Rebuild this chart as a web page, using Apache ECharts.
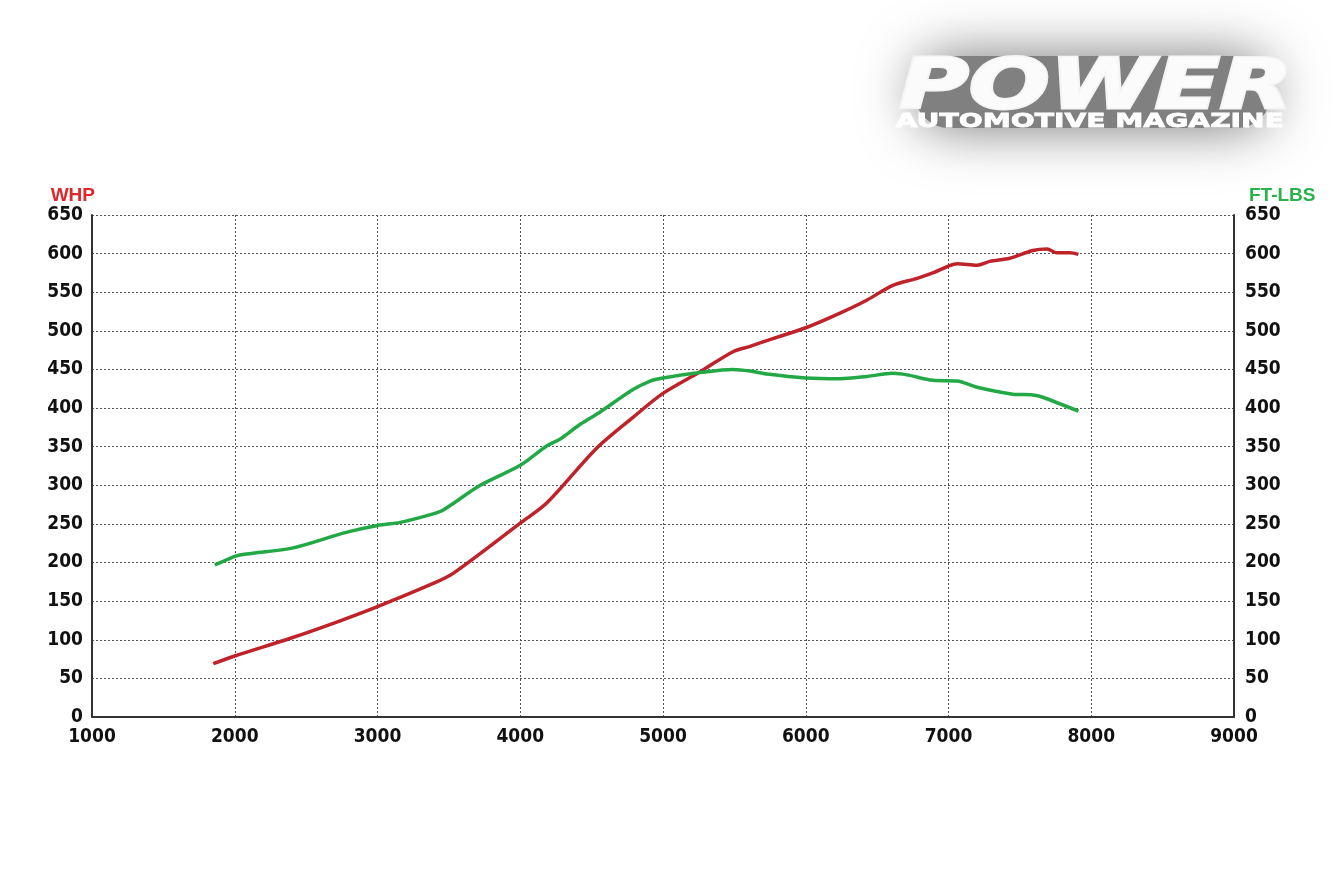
<!DOCTYPE html>
<html>
<head>
<meta charset="utf-8">
<script src="https://cdn.jsdelivr.net/npm/echarts@6/dist/echarts.min.js"></script>
<style>
html,body{margin:0;padding:0;background:#fff;}
#chart{width:1340px;height:892px;}
</style>
</head>
<body>
<div id="chart"></div>
<script>
// RPM / WHP (red)
const whpRpm = [1850,2000,2390,2700,3000,3390,3530,4000,4185,4535,4790,5000,5260,5490,5610,5770,6000,6240,6430,6610,6780,6890,6990,7060,7200,7290,7430,7590,7690,7760,7850,7910];
const whpVals = [69,79,102,122,143,173,186,251,277,348,388,419,447,473,480,490,504,523,540,559,568,575,583,587,585,590,594,604,606,601,601,599];
// RPM / FT-LBS (green)
const tqRpm = [1860,1950,2000,2080,2410,2780,3000,3160,3390,3460,3720,4000,4185,4280,4420,4560,4790,4910,5000,5260,5490,5610,5730,6000,6240,6430,6610,6710,6890,7060,7200,7450,7590,7660,7910];
const tqVals = [197,204,208,211,219,239,248,252,263,268,300,326,351,360,379,395,424,435,439,446,450,448,444,439,438,441,445,443,436,435,427,418,417,414,396];
// axis settings
const xMin = 1000, xMax = 9000, xStep = 1000;
const yMin = 0, yMax = 650, yStep = 50;
const leftName = 'WHP', rightName = 'FT-LBS';

const chart = echarts.init(document.getElementById('chart'));
const plain = v => String(v);
const labelFont = {color:'#111', fontFamily:'"DejaVu Sans Condensed", "DejaVu Sans", sans-serif', fontWeight:'bold', fontSize:19, formatter:plain};
const gridDash = {color:'#555', width:1, type:[2,2]};
const axisSolid = {color:'#333', width:2};

chart.setOption({
  backgroundColor:'#fff',
  animation:false,
  grid:{left:92, right:106, top:215, bottom:175},
  xAxis:{
    type:'value', min:xMin, max:xMax, interval:xStep,
    axisLine:{show:true, lineStyle:axisSolid},
    axisTick:{show:false},
    axisLabel:Object.assign({margin:11}, labelFont),
    splitLine:{show:true, lineStyle:gridDash}
  },
  yAxis:[
    {
      type:'value', min:yMin, max:yMax, interval:yStep, position:'left',
      name:leftName, nameLocation:'end', nameGap:7,
      nameTextStyle:{color:'#e0262b', fontFamily:'Liberation Sans', fontWeight:'bold', fontSize:19, align:'right', padding:[0,-3,0,0]},
      axisLine:{show:true, lineStyle:axisSolid},
      axisTick:{show:false},
      axisLabel:Object.assign({margin:9}, labelFont),
      splitLine:{show:true, lineStyle:gridDash}
    },
    {
      type:'value', min:yMin, max:yMax, interval:yStep, position:'right',
      name:rightName, nameLocation:'end', nameGap:7,
      nameTextStyle:{color:'#2bb24c', fontFamily:'Liberation Sans', fontWeight:'bold', fontSize:19, align:'left', padding:[0,0,0,15]},
      axisLine:{show:true, lineStyle:axisSolid},
      axisTick:{show:false},
      axisLabel:Object.assign({margin:11}, labelFont),
      splitLine:{show:false}
    }
  ],
  series:[
    {
      type:'line', yAxisIndex:0, smooth:0.3, showSymbol:false,
      data:whpRpm.map((r,i)=>[r, whpVals[i]]),
      lineStyle:{color:'#bf2229', width:3.5}, itemStyle:{color:'#bf2229'}
    },
    {
      type:'line', yAxisIndex:1, smooth:0.3, showSymbol:false,
      data:tqRpm.map((r,i)=>[r, tqVals[i]]),
      lineStyle:{color:'#22a845', width:3.5}, itemStyle:{color:'#22a845'}
    }
  ],
  graphic:[
    {
      type:'rect', z:5,
      shape:{x:915, y:56, width:356, height:72, r:34},
      style:{
        fill:'#808080',
        shadowColor:'rgba(120,120,120,1)', shadowBlur:55
      }
    },
    {
      type:'text', left:897, top:53, scaleX:1.36, z:10,
      style:{text:'POWER', font:'italic bold 70px "DejaVu Sans"', fill:'#fbfbfb',
        stroke:'#f4f4f4', lineWidth:3}
    },
    {
      type:'text', left:895, top:111, scaleX:1.41, z:10,
      style:{text:'AUTOMOTIVE MAGAZINE', font:'bold 20px "DejaVu Sans"', fill:'#fff', stroke:'#fff', lineWidth:0.8}
    }
  ]
});
</script>
</body>
</html>
